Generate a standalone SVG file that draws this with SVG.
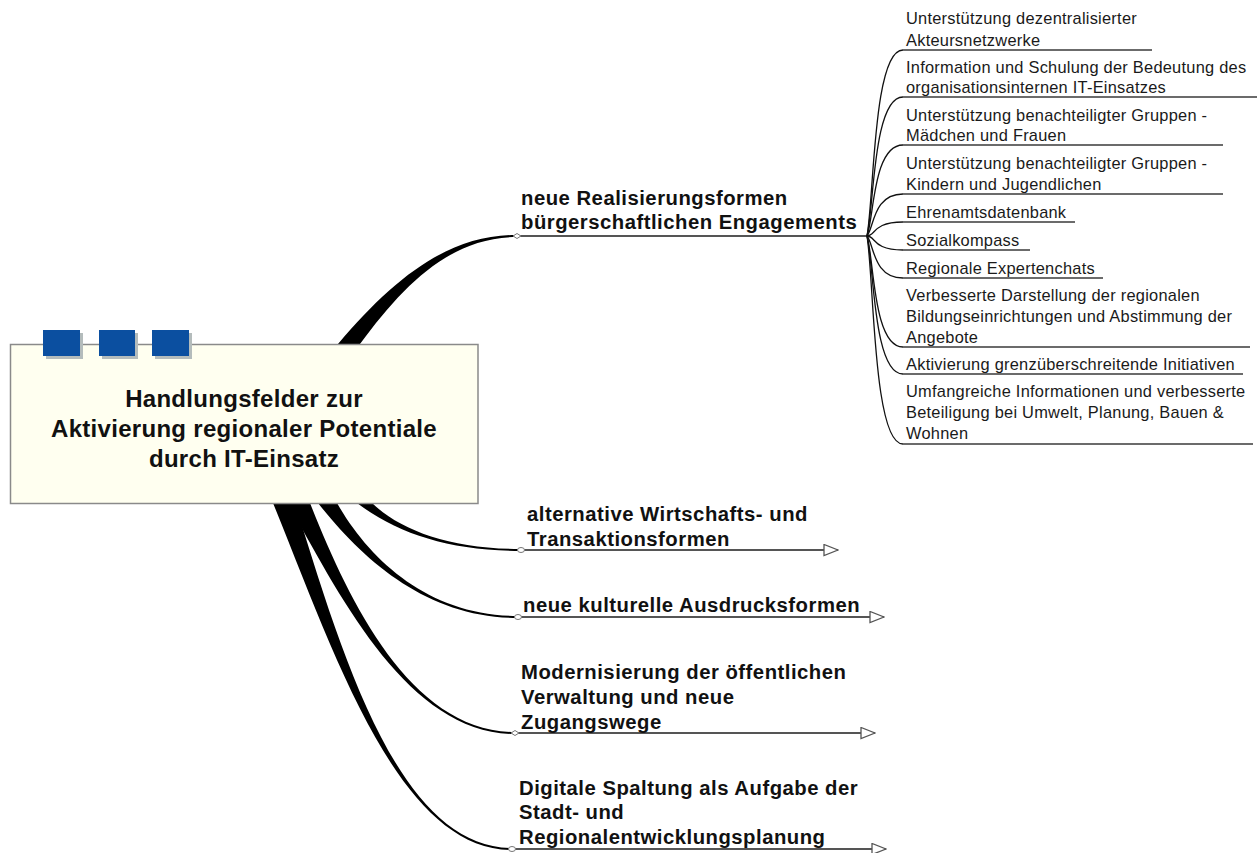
<svg xmlns="http://www.w3.org/2000/svg" width="1257" height="853" viewBox="0 0 1257 853">
  <defs>
    <style>
      .title { font-family: "Liberation Sans", Arial, sans-serif; font-size: 24px; font-weight: bold; fill: #111; letter-spacing: 0.3px; }
      .branch { font-family: "Liberation Sans", Arial, sans-serif; font-size: 20.3px; font-weight: bold; fill: #111; letter-spacing: 0.5px; }
      .sub { font-family: "Liberation Sans", Arial, sans-serif; font-size: 16.4px; fill: #1a1a1a; letter-spacing: 0.25px; }
      .taper { fill: #000; stroke: none; }
      .bline { stroke: #555; stroke-width: 2; fill: none; }
      .sline { stroke: #3a3a3a; stroke-width: 1.4; fill: none; }
      .scurve { stroke: #111; stroke-width: 1.3; fill: none; }
      .start { fill: #fff; stroke: #777; stroke-width: 1; }
    </style>
    <marker id="arrow" markerUnits="userSpaceOnUse" markerWidth="16" markerHeight="13" viewBox="0 0 16 13" refX="15" refY="6.5" orient="auto">
      <path d="M1,1 L15,6.5 L1,12 Z" fill="#fff" stroke="#555" stroke-width="1.3"/>
    </marker>
  </defs>

  <rect width="1257" height="853" fill="#fff"/>

  <g id="connectors">
    <!-- tapered main connectors -->
    <path class="taper" d="M338,344 C395.6,275.9 450,234.5 517,235 L517,237 C450,237.5 404.4,284.1 360,344 Z"/>
    <path class="taper" d="M357,503 C398,534 450,550.8 521,551 L521,549 C450,549.2 400,530 372,503 Z"/>
    <path class="taper" d="M318,503 C366,564 430,618 518,618 L518,616 C430,616 370,561 337,503 Z"/>
    <path class="taper" d="M273,503 C337,661 400,850 512,850 L512,848 C400,848 343,659 295,503 Z"/>
    <path class="taper" d="M288,503 C342,601 410,734 515,734 L515,732 C410,732 348,599 310,503 Z"/>

    <!-- main branch lines -->
    <line class="bline" x1="517" y1="236" x2="867" y2="236"/>
    <line class="bline" x1="521" y1="550" x2="838" y2="550" marker-end="url(#arrow)"/>
    <line class="bline" x1="518" y1="617" x2="884" y2="617" marker-end="url(#arrow)"/>
    <line class="bline" x1="515" y1="733" x2="875" y2="733" marker-end="url(#arrow)"/>
    <line class="bline" x1="512" y1="849" x2="886" y2="849" marker-end="url(#arrow)"/>

    <!-- start points -->
    <path class="start" d="M513,236 L517,233.5 L521,236 L517,238.5 Z"/>
    <ellipse class="start" cx="521" cy="550" rx="3.5" ry="2.5"/>
    <ellipse class="start" cx="518" cy="617" rx="3.5" ry="2.5"/>
    <path class="start" d="M511,733 L515,730.5 L519,733 L515,735.5 Z"/>
    <ellipse class="start" cx="512" cy="849" rx="3.5" ry="2.5"/>

    <!-- sub-topic curves from hub -->
    <path class="scurve" d="M867,236 C874,199 873,50 903,50"/>
    <path class="scurve" d="M867,236 C874,208 873,97 903,97"/>
    <path class="scurve" d="M867,236 C874,218 873,145 903,145"/>
    <path class="scurve" d="M867,236 C874,228 873,194 903,194"/>
    <path class="scurve" d="M867,236 C876,236 872,222 903,222"/>
    <path class="scurve" d="M867,236 C876,236 872,250 903,250"/>
    <path class="scurve" d="M867,236 C874,244 873,278 903,278"/>
    <path class="scurve" d="M867,236 C874,258 873,347 903,347"/>
    <path class="scurve" d="M867,236 C874,264 873,374 903,374"/>
    <path class="scurve" d="M867,236 C874,278 873,444 903,444"/>

    <!-- sub-topic underlines -->
    <line class="sline" x1="903" y1="50" x2="1152" y2="50"/>
    <line class="sline" x1="903" y1="97" x2="1257" y2="97"/>
    <line class="sline" x1="903" y1="145" x2="1223" y2="145"/>
    <line class="sline" x1="903" y1="194" x2="1223" y2="194"/>
    <line class="sline" x1="903" y1="222" x2="1075" y2="222"/>
    <line class="sline" x1="903" y1="250" x2="1030" y2="250"/>
    <line class="sline" x1="903" y1="278" x2="1103" y2="278"/>
    <line class="sline" x1="903" y1="347" x2="1250" y2="347"/>
    <line class="sline" x1="903" y1="374" x2="1243" y2="374"/>
    <line class="sline" x1="903" y1="444" x2="1253" y2="444"/>
  </g>

  <g id="central">
    <rect x="10.5" y="344.5" width="467.5" height="159" fill="#FFFFF0" stroke="#8a8a8a" stroke-width="1.5"/>
    <rect x="46" y="333" width="37" height="26" fill="#b4bcbc"/>
    <rect x="102" y="333" width="36" height="26" fill="#b4bcbc"/>
    <rect x="155" y="333" width="37" height="26" fill="#b4bcbc"/>
    <rect x="43" y="330" width="37" height="26" fill="#0B4FA0"/>
    <rect x="99" y="330" width="36" height="26" fill="#0B4FA0"/>
    <rect x="152" y="330" width="37" height="26" fill="#0B4FA0"/>
    <text class="title" text-anchor="middle" x="244" y="407">Handlungsfelder zur</text>
    <text class="title" text-anchor="middle" x="244" y="437">Aktivierung regionaler Potentiale</text>
    <text class="title" text-anchor="middle" x="244" y="467">durch IT-Einsatz</text>
  </g>

  <g id="branch1">
    <text class="branch" x="521" y="205">neue Realisierungsformen</text>
    <text class="branch" x="521" y="229">bürgerschaftlichen Engagements</text>
  </g>
  <g id="branch2">
    <text class="branch" x="527" y="521">alternative Wirtschafts- und</text>
    <text class="branch" x="527" y="546">Transaktionsformen</text>
  </g>
  <g id="branch3">
    <text class="branch" x="523" y="612">neue kulturelle Ausdrucksformen</text>
  </g>
  <g id="branch4">
    <text class="branch" x="521" y="679">Modernisierung der öffentlichen</text>
    <text class="branch" x="521" y="704">Verwaltung und neue</text>
    <text class="branch" x="521" y="729">Zugangswege</text>
  </g>
  <g id="branch5">
    <text class="branch" x="519" y="795">Digitale Spaltung als Aufgabe der</text>
    <text class="branch" x="519" y="819">Stadt- und</text>
    <text class="branch" x="519" y="844">Regionalentwicklungsplanung</text>
  </g>

  <g id="sub1"><text class="sub" x="906" y="24">Unterstützung dezentralisierter</text><text class="sub" x="906" y="46">Akteursnetzwerke</text></g>
  <g id="sub2"><text class="sub" x="906" y="73">Information und Schulung der Bedeutung des</text><text class="sub" x="906" y="93">organisationsinternen IT-Einsatzes</text></g>
  <g id="sub3"><text class="sub" x="906" y="121">Unterstützung benachteiligter Gruppen -</text><text class="sub" x="906" y="141">Mädchen und Frauen</text></g>
  <g id="sub4"><text class="sub" x="906" y="169">Unterstützung benachteiligter Gruppen -</text><text class="sub" x="906" y="190">Kindern und Jugendlichen</text></g>
  <g id="sub5"><text class="sub" x="906" y="217.5">Ehrenamtsdatenbank</text></g>
  <g id="sub6"><text class="sub" x="906" y="245.5">Sozialkompass</text></g>
  <g id="sub7"><text class="sub" x="906" y="273.5">Regionale Expertenchats</text></g>
  <g id="sub8"><text class="sub" x="906" y="301">Verbesserte Darstellung der regionalen</text><text class="sub" x="906" y="322">Bildungseinrichtungen und Abstimmung der</text><text class="sub" x="906" y="343">Angebote</text></g>
  <g id="sub9"><text class="sub" x="906" y="369.5">Aktivierung grenzüberschreitende Initiativen</text></g>
  <g id="sub10"><text class="sub" x="906" y="397">Umfangreiche Informationen und verbesserte</text><text class="sub" x="906" y="418">Beteiligung bei Umwelt, Planung, Bauen &amp;</text><text class="sub" x="906" y="439">Wohnen</text></g>
</svg>
